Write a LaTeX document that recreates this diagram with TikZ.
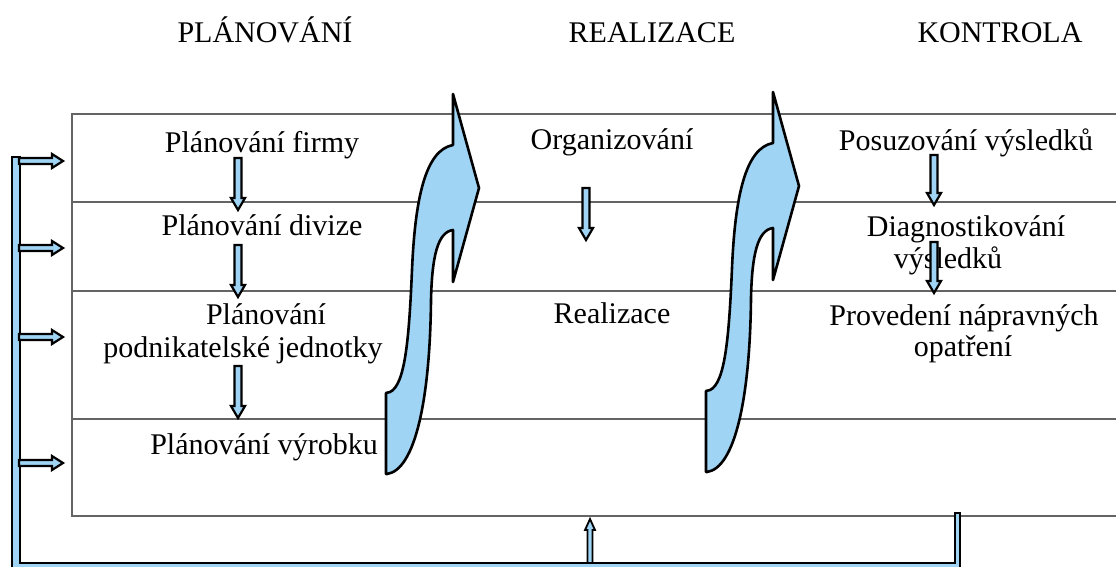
\documentclass[tikz,border=0pt]{standalone}
\usepackage{fontspec}
\setmainfont{Liberation Serif}
\usetikzlibrary{calc}
\definecolor{arrowblue}{RGB}{160,212,244}
\definecolor{rulegray}{RGB}{100,100,100}
\tikzset{
  blk/.style={fill=arrowblue, draw=black, line width=2.2pt, line join=miter},
  bigarr/.style={fill=arrowblue, draw=black, line width=2.6pt, line join=round},
  rulel/.style={draw=rulegray, line width=1.1pt},
  lbl/.style={anchor=base, inner sep=0pt, font=\fontsize{30}{34}\selectfont},
  hdr/.style={anchor=base, inner sep=0pt, font=\fontsize{30}{34}\selectfont},
}
\newcommand\blkdown[2]{\draw[blk] let \p1=(#1), \p2=(#2) in
  (\x1-3.5pt,\y1) -- (\x1+3.5pt,\y1) -- (\x1+3.5pt,\y2+12pt) -- (\x1+7pt,\y2+12pt)
  -- (\x1,\y2) -- (\x1-7pt,\y2+12pt) -- (\x1-3.5pt,\y2+12pt) -- cycle;}
\newcommand\blkright[2]{\draw[blk] let \p1=(#1), \p2=(#2) in
  (\x1,\y1+3pt) -- (\x2-11pt,\y1+3pt) -- (\x2-11pt,\y1+7pt) -- (\x2,\y1)
  -- (\x2-11pt,\y1-7pt) -- (\x2-11pt,\y1-3pt) -- (\x1,\y1-3pt) -- cycle;}
\newcommand\blkup[2]{\draw[blk, line width=1.8pt] let \p1=(#1), \p2=(#2) in
  (\x1-2.5pt,\y1) -- (\x1-2.5pt,\y2-11pt) -- (\x1-5pt,\y2-11pt) -- (\x1,\y2)
  -- (\x1+5pt,\y2-11pt) -- (\x1+2.5pt,\y2-11pt) -- (\x1+2.5pt,\y1) -- cycle;}
\newcommand\bigcurvearrow[1]{\draw[bigarr, shift={#1}]
  (453,94) -- (479,188) -- (453,282) -- (453,230)
  .. controls (438,232) and (432,255) .. (431,300)
  .. controls (430,400) and (415,470) .. (387,474)
  -- (386,474) -- (386,393) -- (390,392)
  .. controls (405,385) and (409,340) .. (412,270)
  .. controls (415,200) and (425,150) .. (453,145) -- cycle;}

\begin{document}
\begin{tikzpicture}[x=1pt,y=-1pt]
\useasboundingbox (0,0) rectangle (1116,566);
\clip (0,0) rectangle (1116,566);

% table rules
\draw[rulel] (1116,114) -- (72,114) -- (72,516) -- (1116,516);
\draw[rulel] (72,202) -- (1116,202);
\draw[rulel] (72,291) -- (1116,291);
\draw[rulel] (72,419) -- (1116,419);

% headers
\node[hdr] (hplan) at (265,42) {PLÁNOVÁNÍ};
\node[hdr] (hreal) at (652,42) {REALIZACE};
\node[hdr] (hkon)  at (1000,42) {KONTROLA};

% planning column
\node[lbl] (p1)  at (262,152) {Plánování firmy};
\node[lbl] (p2)  at (262,235) {Plánování divize};
\node[lbl] (p3a) at (266,324) {Plánování};
\node[lbl] (p3b) at (243,357) {podnikatelské jednotky};
\node[lbl] (p4)  at (264,454) {Plánování výrobku};

% realization column
\node[lbl] (r1) at (612,149) {Organizování};
\node[lbl] (r2) at (612,323) {Realizace};

% control column
\node[lbl] (k1)  at (966,150) {Posuzování výsledků};
\node[lbl] (k2a) at (966,236) {Diagnostikování};
\node[lbl] (k2b) at (948,268) {výsledků};
\node[lbl] (k3a) at (964,325) {Provedení nápravných};
\node[lbl] (k3b) at (963,356) {opatření};

% big curved arrows
\bigcurvearrow{(0,0)}
\bigcurvearrow{(320,-2)}

% small down arrows
\coordinate (pa1s) at (238,158); \coordinate (pa1e) at (238,210);
\coordinate (pa2s) at (238,245); \coordinate (pa2e) at (238,297);
\coordinate (pa3s) at (238,366); \coordinate (pa3e) at (238,418);
\coordinate (ras)  at (586,188); \coordinate (rae)  at (586,240);
\coordinate (ka1s) at (934,155); \coordinate (ka1e) at (934,205);
\coordinate (ka2s) at (934,242); \coordinate (ka2e) at (934,293);
\blkdown{pa1s}{pa1e}
\blkdown{pa2s}{pa2e}
\blkdown{pa3s}{pa3e}
\blkdown{ras}{rae}
\blkdown{ka1s}{ka1e}
\blkdown{ka2s}{ka2e}

% feedback bracket
\coordinate (ups) at (590,563); \coordinate (upe) at (590,519);
\blkup{ups}{upe}
\draw[blk] (12,157) -- (20,157) -- (20,563) -- (955,563) -- (955,513)
  -- (960,513) -- (960,580) -- (12,580) -- cycle;

% arrows into the rows
\coordinate (b1) at (19,161); \coordinate (e1) at (63,161);
\coordinate (b2) at (19,248); \coordinate (e2) at (63,248);
\coordinate (b3) at (19,337); \coordinate (e3) at (63,337);
\coordinate (b4) at (19,463); \coordinate (e4) at (63,463);
\blkright{b1}{e1}
\blkright{b2}{e2}
\blkright{b3}{e3}
\blkright{b4}{e4}
\end{tikzpicture}
\end{document}
